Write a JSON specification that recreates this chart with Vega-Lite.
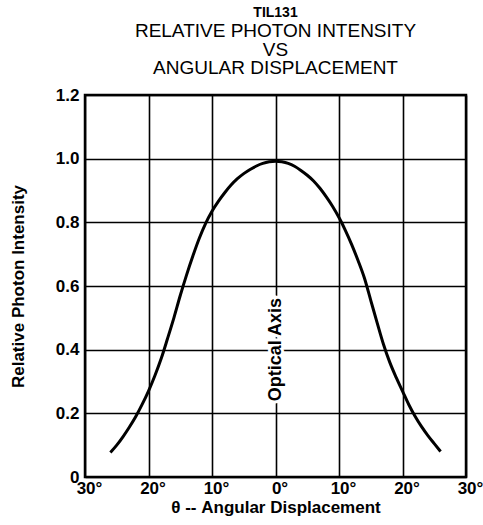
{
  "$schema": "https://vega.github.io/schema/vega-lite/v6.json",
  "width": 381,
  "height": 382,
  "autosize": "none",
  "padding": {"left": 85, "top": 95, "right": 17, "bottom": 48},
  "background": "white",
  "config": {
    "font": "Liberation Sans",
    "view": {"stroke": "black", "strokeWidth": 2.5},
    "axis": {
      "gridColor": "black",
      "gridWidth": 1.6,
      "gridOpacity": 1,
      "domain": false,
      "ticks": false,
      "labelFont": "Liberation Sans",
      "labelFontWeight": "bold",
      "labelFontSize": 17,
      "labelColor": "black",
      "titleFont": "Liberation Sans",
      "titleFontWeight": "bold",
      "titleFontSize": 17,
      "titleColor": "black"
    }
  },
  "title": {
    "text": "TIL131",
    "subtitle": ["RELATIVE PHOTON INTENSITY", "VS", "ANGULAR DISPLACEMENT"],
    "anchor": "middle",
    "font": "Liberation Sans",
    "fontSize": 14,
    "fontWeight": "bold",
    "color": "black",
    "subtitleFont": "Liberation Sans",
    "subtitleFontSize": 19,
    "subtitleColor": "black",
    "subtitleLineHeight": 18.5,
    "subtitlePadding": 2,
    "offset": 8
  },
  "datasets": {
    "curve": [
      {"angle": -26, "intensity": 0.077},
      {"angle": -25, "intensity": 0.10},
      {"angle": -24, "intensity": 0.127},
      {"angle": -23, "intensity": 0.157},
      {"angle": -22, "intensity": 0.19},
      {"angle": -21, "intensity": 0.228},
      {"angle": -20, "intensity": 0.27},
      {"angle": -19, "intensity": 0.318},
      {"angle": -18, "intensity": 0.372},
      {"angle": -17, "intensity": 0.435},
      {"angle": -16, "intensity": 0.50},
      {"angle": -15, "intensity": 0.57},
      {"angle": -14, "intensity": 0.635},
      {"angle": -13, "intensity": 0.695},
      {"angle": -12, "intensity": 0.75},
      {"angle": -11, "intensity": 0.797},
      {"angle": -10, "intensity": 0.835},
      {"angle": -9, "intensity": 0.866},
      {"angle": -8, "intensity": 0.893},
      {"angle": -7, "intensity": 0.917},
      {"angle": -6, "intensity": 0.937},
      {"angle": -5, "intensity": 0.953},
      {"angle": -4, "intensity": 0.966},
      {"angle": -3, "intensity": 0.977},
      {"angle": -2, "intensity": 0.985},
      {"angle": -1, "intensity": 0.99},
      {"angle": 0, "intensity": 0.992},
      {"angle": 1, "intensity": 0.99},
      {"angle": 2, "intensity": 0.985},
      {"angle": 3, "intensity": 0.976},
      {"angle": 4, "intensity": 0.963},
      {"angle": 5, "intensity": 0.948},
      {"angle": 6, "intensity": 0.93},
      {"angle": 7, "intensity": 0.907},
      {"angle": 8, "intensity": 0.88},
      {"angle": 9, "intensity": 0.85},
      {"angle": 10, "intensity": 0.815},
      {"angle": 11, "intensity": 0.775},
      {"angle": 12, "intensity": 0.73},
      {"angle": 13, "intensity": 0.68},
      {"angle": 14, "intensity": 0.625},
      {"angle": 15, "intensity": 0.555},
      {"angle": 16, "intensity": 0.485},
      {"angle": 17, "intensity": 0.417},
      {"angle": 18, "intensity": 0.36},
      {"angle": 19, "intensity": 0.313},
      {"angle": 20, "intensity": 0.27},
      {"angle": 21, "intensity": 0.227},
      {"angle": 22, "intensity": 0.19},
      {"angle": 23, "intensity": 0.158},
      {"angle": 24, "intensity": 0.13},
      {"angle": 25, "intensity": 0.105},
      {"angle": 26, "intensity": 0.08}
    ],
    "labels": [
      {"angle": 0, "intensity": 0.4, "label": "Optical Axis"}
    ]
  },
  "layer": [
    {
      "data": {"name": "curve"},
      "mark": {"type": "line", "color": "black", "strokeWidth": 3, "interpolate": "monotone"},
      "encoding": {
        "x": {
          "field": "angle",
          "type": "quantitative",
          "scale": {"domain": [-30, 30], "nice": false},
          "axis": {
            "values": [-30, -20, -10, 0, 10, 20, 30],
            "labelExpr": "abs(datum.value) + '°'",
            "labelPadding": 3,
            "labelOffset": 4,
            "labelFlush": false,
            "title": "θ -- Angular Displacement",
            "titlePadding": 3
          }
        },
        "y": {
          "field": "intensity",
          "type": "quantitative",
          "scale": {"domain": [0, 1.2], "nice": false},
          "axis": {
            "values": [0, 0.2, 0.4, 0.6, 0.8, 1.0, 1.2],
            "labelExpr": "datum.value == 0 ? '0' : format(datum.value, '.1f')",
            "labelPadding": 6,
            "labelFlush": false,
            "title": "Relative Photon Intensity",
            "titlePadding": 28
          }
        }
      }
    },
    {
      "data": {"name": "labels"},
      "mark": {"type": "text", "angle": 270, "font": "Liberation Sans", "fontWeight": "bold", "fontSize": 18, "fill": "white", "stroke": "white", "strokeWidth": 6, "align": "center", "baseline": "middle"},
      "encoding": {
        "x": {"field": "angle", "type": "quantitative"},
        "y": {"field": "intensity", "type": "quantitative"},
        "text": {"field": "label"}
      }
    },
    {
      "data": {"name": "labels"},
      "mark": {"type": "text", "angle": 270, "font": "Liberation Sans", "fontWeight": "bold", "fontSize": 18, "color": "black", "align": "center", "baseline": "middle"},
      "encoding": {
        "x": {"field": "angle", "type": "quantitative"},
        "y": {"field": "intensity", "type": "quantitative"},
        "text": {"field": "label"}
      }
    }
  ]
}
